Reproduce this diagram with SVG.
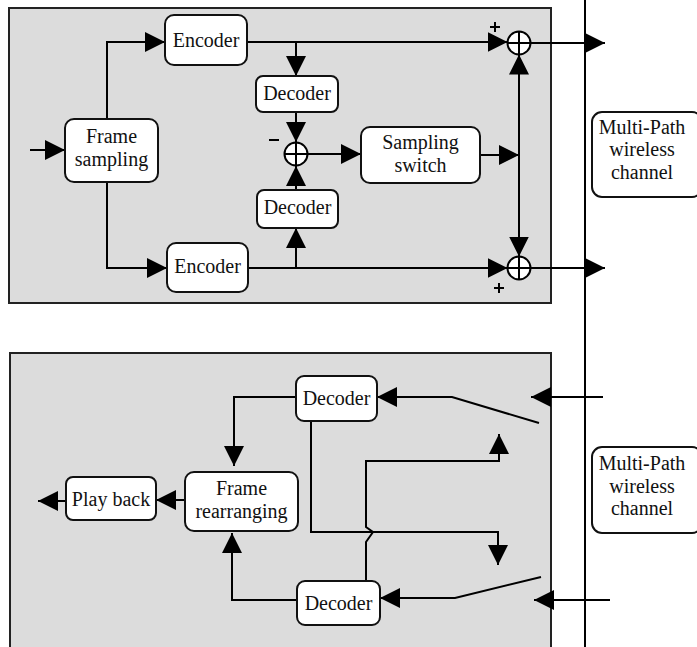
<svg xmlns="http://www.w3.org/2000/svg" width="697" height="647" viewBox="0 0 697 647">
<defs>
<style>
.panel{fill:#dcdcdc;stroke:#222;stroke-width:2}
.box{fill:#fff;stroke:#111;stroke-width:2}
.t{font-family:"Liberation Serif","Times New Roman",serif;font-size:20px;fill:#111;text-anchor:middle}
.c{fill:none;stroke:#000;stroke-width:2}
.sum{fill:#fff;stroke:#000;stroke-width:2}
</style>
<marker id="ah" markerWidth="20" markerHeight="20" refX="20" refY="10" orient="auto" markerUnits="userSpaceOnUse">
<path d="M0,0 L20,10 L0,20 Z" fill="#000"/>
</marker>
</defs>
<rect width="697" height="647" fill="#fff"/>
<rect class="panel" x="9" y="8" width="542" height="295"/>
<rect class="panel" x="10" y="353" width="541" height="310"/>
<line x1="585" y1="0" x2="585" y2="647" stroke="#000" stroke-width="2"/>

<g id="connectors">
<path class="c" d="M30,150 H65" marker-end="url(#ah)"/>
<path class="c" d="M107,119 V42 H165" marker-end="url(#ah)"/>
<path class="c" d="M107,182 V268 H167" marker-end="url(#ah)"/>
<path class="c" d="M247,42 H507.5" marker-end="url(#ah)"/>
<path class="c" d="M296,42 V76" marker-end="url(#ah)"/>
<path class="c" d="M296,112 V142" marker-end="url(#ah)"/>
<path class="c" d="M296,190 V166" marker-end="url(#ah)"/>
<path class="c" d="M248,268 H507.5" marker-end="url(#ah)"/>
<path class="c" d="M296,268 V228" marker-end="url(#ah)"/>
<path class="c" d="M308,154 H361" marker-end="url(#ah)"/>
<path class="c" d="M480,155 H519" marker-end="url(#ah)"/>
<path class="c" d="M519,155 V54.5" marker-end="url(#ah)"/>
<path class="c" d="M519,155 V256.5" marker-end="url(#ah)"/>
<path class="c" d="M530.5,43 H605" marker-end="url(#ah)"/>
<path class="c" d="M530.5,268 H605" marker-end="url(#ah)"/>

<path class="c" d="M296,397 H234 V466" marker-end="url(#ah)"/>
<path class="c" d="M297,600 H232 V533" marker-end="url(#ah)"/>
<path class="c" d="M185,500 H156" marker-end="url(#ah)"/>
<path class="c" d="M66,501 H38" marker-end="url(#ah)"/>
<path class="c" d="M311,421 V532 H498 V565" marker-end="url(#ah)"/>
<path class="c" d="M366,581 V542 L373,532 L366,527 V461 H499 V434" marker-end="url(#ah)"/>
<path class="c" d="M539,423 L452,397 H377" marker-end="url(#ah)"/>
<path class="c" d="M603,397 H531" marker-end="url(#ah)"/>
<path class="c" d="M541,577 L455,598 H380" marker-end="url(#ah)"/>
<path class="c" d="M610,600 H534" marker-end="url(#ah)"/>
</g>

<g id="frame-sampling"><rect class="box" x="65" y="119" width="93" height="63" rx="9"/>
<text class="t" x="111.5" y="143">Frame</text><text class="t" x="111.5" y="166">sampling</text></g>
<g id="encoder-top"><rect class="box" x="165" y="15" width="82" height="50" rx="9"/>
<text class="t" x="206" y="47">Encoder</text></g>
<g id="encoder-bottom"><rect class="box" x="167" y="243" width="81" height="49" rx="9"/>
<text class="t" x="207.5" y="273">Encoder</text></g>
<g id="decoder-1"><rect class="box" x="256" y="76" width="82" height="36" rx="7"/>
<text class="t" x="297" y="100">Decoder</text></g>
<g id="decoder-2"><rect class="box" x="257" y="190" width="81" height="38" rx="7"/>
<text class="t" x="297.5" y="214">Decoder</text></g>
<g id="sum-mid"><circle class="sum" cx="296" cy="154" r="11.5"/>
<path class="c" d="M284.5,154 H307.5 M296,142.5 V165.5"/>
<path class="c" d="M269,140 H279"/></g>
<g id="sum-top"><circle class="sum" cx="519" cy="43" r="11.5"/>
<path class="c" d="M507.5,43 H530.5 M519,31.5 V54.5"/>
<path class="c" d="M490,27 H500 M495,22 V32"/></g>
<g id="sum-bottom"><circle class="sum" cx="519" cy="268" r="11.5"/>
<path class="c" d="M507.5,268 H530.5 M519,256.5 V279.5"/>
<path class="c" d="M494,288 H504 M499,283 V293"/></g>
<g id="sampling-switch"><rect class="box" x="361" y="127" width="119" height="56" rx="9"/>
<text class="t" x="420.5" y="149">Sampling</text><text class="t" x="420.5" y="172">switch</text></g>
<g id="channel-top"><rect class="box" x="592" y="112" width="110" height="85" rx="10"/>
<text class="t" x="642" y="134">Multi-Path</text><text class="t" x="642" y="156">wireless</text><text class="t" x="642" y="179">channel</text></g>

<g id="decoder-3"><rect class="box" x="296" y="376" width="81" height="45" rx="8"/>
<text class="t" x="336.5" y="405">Decoder</text></g>
<g id="decoder-4"><rect class="box" x="297" y="581" width="83" height="44" rx="8"/>
<text class="t" x="338.5" y="610">Decoder</text></g>
<g id="frame-rearranging"><rect class="box" x="185" y="472" width="113" height="59" rx="9"/>
<text class="t" x="241.5" y="495">Frame</text><text class="t" x="241.5" y="518">rearranging</text></g>
<g id="play-back"><rect class="box" x="66" y="477" width="90" height="43" rx="7"/>
<text class="t" x="111" y="506">Play back</text></g>
<g id="channel-bottom"><rect class="box" x="592" y="447" width="110" height="86" rx="10"/>
<text class="t" x="642" y="470">Multi-Path</text><text class="t" x="642" y="493">wireless</text><text class="t" x="642" y="515">channel</text></g>
</svg>
